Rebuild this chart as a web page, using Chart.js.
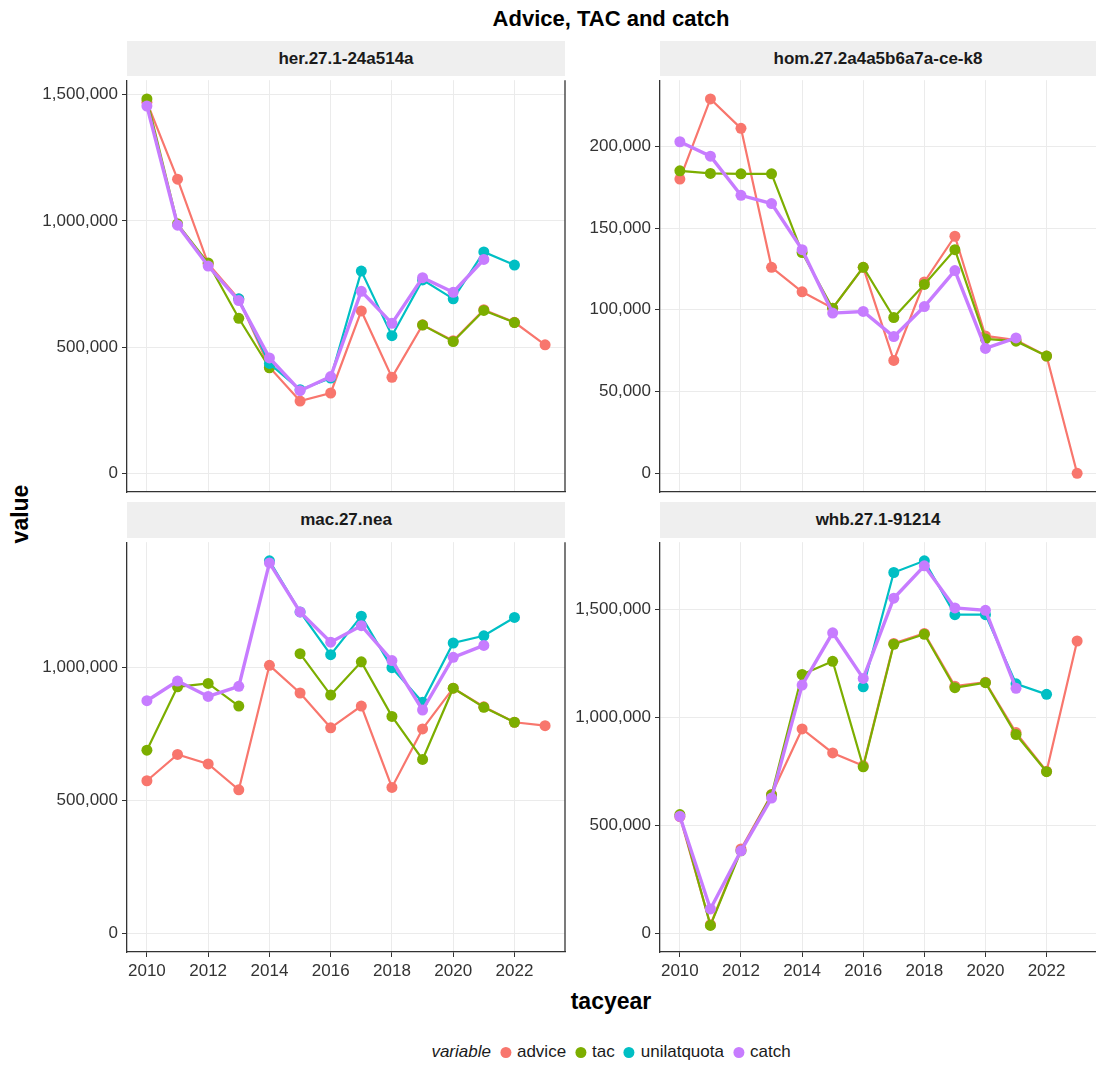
<!DOCTYPE html>
<html>
<head>
<meta charset="utf-8">
<script src="https://cdn.jsdelivr.net/npm/chart.js@4.4.1/dist/chart.umd.min.js"></script>
<style>
  body { margin: 0; width: 1096px; height: 1066px; overflow: hidden; background: #fff;
         font-family: "Liberation Sans", Arial, sans-serif; position: relative; }
  canvas { position: absolute; }
  .lbl { position: absolute; transform: translate(-50%, -50%); white-space: nowrap; color: #000; }
  .strip { position: absolute; background: #efefef; font-weight: bold; font-size: 17px; color: #1a1a1a;
           display: flex; align-items: center; justify-content: center; }
  #legend { position: absolute; top: 1052px; left: 611px; transform: translate(-50%, -50%);
            font-size: 17px; color: #1a1a1a; display: flex; align-items: center; white-space: nowrap; }
  #legend .dot { width: 11px; height: 11px; border-radius: 50%; display: inline-block; margin: 0 6px 0 9px; }
</style>
</head>
<body>
<div class="lbl" style="left:611px;top:19px;font-weight:bold;font-size:22px;">Advice, TAC and catch</div>
<div class="lbl" style="left:611px;top:1001px;font-weight:bold;font-size:23px;">tacyear</div>
<div class="lbl" style="left:20px;top:514px;font-weight:bold;font-size:23px;transform:translate(-50%,-50%) rotate(-90deg);">value</div>
<div id="legend"><i>variable</i></div>

<script>
// years and tick labels
const years = [2010, 2011, 2012, 2013, 2014, 2015, 2016, 2017, 2018, 2019, 2020, 2021, 2022, 2023];
const xTicks = [2010, 2012, 2014, 2016, 2018, 2020, 2022];

const variables = ['advice', 'tac', 'unilatquota', 'catch'];
const colors = ['#F8766D', '#7CAE00', '#00BFC4', '#C77CFF'];

// her.27.1-24a514a
const herAdvice = [1470000, 1165000, 830000, 690000, 420000, 286000, 318000, 643000, 380000, 588000, 525000, 648000, 598000, 509000];
const herTac    = [1483000, 988000, 833000, 614000, 418000, null, null, null, null, 587000, 522000, 645000, 597000, null];
const herUnilat = [null, null, null, 691000, 435000, 331000, 377000, 801000, 545000, 766000, 691000, 877000, 825000, null];
const herCatch  = [1455000, 983000, 821000, 684000, 457000, 327000, 383000, 721000, 594000, 775000, 717000, 847000, null, null];
const herTicks  = [0, 500000, 1000000, 1500000];

// hom.27.2a4a5b6a7a-ce-k8
const homAdvice = [180000, 229000, 211000, 126000, 111000, 101000, 126000, 69000, 117000, 145000, 84000, 81500, 71700, 0];
const homTac    = [185000, 183400, 183200, 183200, 135000, 101000, 126000, 95300, 115500, 136800, 82200, 80800, 71700, null];
const homUnilat = [null, null, null, null, null, null, null, null, null, null, null, null, null, null];
const homCatch  = [202800, 194000, 170000, 165000, 136800, 98000, 99000, 83600, 102000, 124000, 76400, 82800, null, null];
const homTicks  = [0, 50000, 100000, 150000, 200000];

// mac.27.nea
const macAdvice = [574000, 673000, 637000, 540000, 1008000, 904000, 773000, 855000, 549000, 769000, 922000, 852000, 794000, 781000];
const macTac    = [689000, 927000, 940000, 855000, null, 1052000, 896000, 1021000, 816000, 654000, 922000, 850000, 794000, null];
const macUnilat = [null, null, null, null, 1401000, 1209000, 1048000, 1193000, 999000, 869000, 1092000, 1119000, 1188000, null];
const macCatch  = [875000, 949000, 891000, 929000, 1393000, 1209000, 1095000, 1157000, 1026000, 840000, 1038000, 1083000, null, null];
const macTicks  = [0, 500000, 1000000];

// whb.27.1-91214
const whbAdvice = [540000, 40000, 391000, 643000, 946000, 835000, 776000, 1342000, 1388000, 1144000, 1162000, 929000, 750000, 1353000];
const whbTac    = [550000, 37000, 382000, 641000, 1198000, 1259000, 771000, 1338000, 1384000, 1137000, 1160000, 920000, 748000, null];
const whbUnilat = [null, null, null, null, null, null, 1141000, 1670000, 1724000, 1475000, 1475000, 1155000, 1106000, null];
const whbCatch  = [542000, 113000, 382000, 626000, 1149000, 1391000, 1180000, 1551000, 1701000, 1506000, 1495000, 1134000, null, null];
const whbTicks  = [0, 500000, 1000000, 1500000];

const panels = [
  { name: 'her.27.1-24a514a', series: [herAdvice, herTac, herUnilat, herCatch], yTicks: herTicks,
    l: 127, t: 76, r: 565, b: 492, stripTop: 41, showX: false },
  { name: 'hom.27.2a4a5b6a7a-ce-k8', series: [homAdvice, homTac, homUnilat, homCatch], yTicks: homTicks,
    l: 660, t: 76, r: 1097, b: 492, stripTop: 41, showX: false },
  { name: 'mac.27.nea', series: [macAdvice, macTac, macUnilat, macCatch], yTicks: macTicks,
    l: 127, t: 538, r: 565, b: 952, stripTop: 502, showX: true },
  { name: 'whb.27.1-91214', series: [whbAdvice, whbTac, whbUnilat, whbCatch], yTicks: whbTicks,
    l: 660, t: 538, r: 1097, b: 952, stripTop: 502, showX: true },
];

Chart.defaults.font.family = '"Liberation Sans", Arial, sans-serif';

const axisColor = '#333333';
const gridColor = '#ebebeb';

// panel border on the right side
const rightBorder = {
  id: 'rightBorder',
  afterDraw(chart) {
    const { ctx, chartArea: a } = chart;
    ctx.save();
    ctx.strokeStyle = axisColor;
    ctx.lineWidth = 1.3;
    ctx.beginPath();
    ctx.moveTo(a.right, a.top);
    ctx.lineTo(a.right, a.bottom);
    ctx.stroke();
    ctx.restore();
  }
};

const xSpan = years[years.length - 1] - years[0];
const xMin = years[0] - 0.05 * xSpan;
const xMax = years[years.length - 1] + 0.05 * xSpan;

const PADL = 100, PADT = 10, PADR = 10, PADB = 40;

panels.forEach(p => {
  // strip
  const strip = document.createElement('div');
  strip.className = 'strip';
  strip.style.left = p.l + 'px';
  strip.style.top = p.stripTop + 'px';
  strip.style.width = (Math.min(p.r, 1096) - p.l) + 'px';
  strip.style.height = (p.t - p.stripTop) + 'px';
  strip.textContent = p.name;
  document.body.appendChild(strip);

  const canvas = document.createElement('canvas');
  const w = p.r - p.l + PADL + PADR;
  const h = p.b - p.t + PADT + PADB;
  canvas.width = w;
  canvas.height = h;
  canvas.style.left = (p.l - PADL) + 'px';
  canvas.style.top = (p.t - PADT) + 'px';
  canvas.style.width = w + 'px';
  canvas.style.height = h + 'px';
  document.body.appendChild(canvas);

  const all = p.series.flat().filter(v => v !== null);
  const lo = Math.min(0, ...all);
  const hi = Math.max(...all);
  const pad = 0.05 * (hi - lo);

  const datasets = p.series.map((vals, i) => ({
    label: variables[i],
    data: years.map((yr, j) => ({ x: yr, y: vals[j] })),
    borderColor: colors[i],
    backgroundColor: colors[i],
    pointBackgroundColor: colors[i],
    pointBorderWidth: 0,
    pointRadius: 5.5,
    borderWidth: i === 3 ? 3.4 : 2.2,
    spanGaps: false,
    order: 4 - i,
  }));

  new Chart(canvas.getContext('2d'), {
    type: 'line',
    data: { datasets },
    options: {
      responsive: false,
      animation: false,
      layout: { padding: { top: PADT, right: PADR, bottom: 0, left: 0 } },
      plugins: { legend: { display: false }, tooltip: { enabled: false } },
      scales: {
        x: {
          type: 'linear',
          min: xMin,
          max: xMax,
          afterBuildTicks: ax => { ax.ticks = xTicks.map(v => ({ value: v })); },
          afterFit: ax => { ax.height = PADB; },
          grid: { color: gridColor, lineWidth: 1, drawTicks: p.showX, tickLength: 5, tickColor: axisColor },
          border: { display: true, color: axisColor, width: 1.3 },
          ticks: { display: p.showX, color: '#333', font: { size: 17 }, padding: 4, maxRotation: 0,
                   callback: v => String(v) },
        },
        y: {
          type: 'linear',
          min: lo - pad,
          max: hi + pad,
          afterBuildTicks: ax => { ax.ticks = p.yTicks.map(v => ({ value: v })); },
          afterFit: ax => { ax.width = PADL; },
          grid: { color: gridColor, lineWidth: 1, drawTicks: true, tickLength: 5, tickColor: axisColor },
          border: { display: true, color: axisColor, width: 1.3 },
          ticks: { color: '#333', font: { size: 17 }, padding: 4,
                   callback: v => v.toLocaleString('en-US') },
        },
      },
    },
    plugins: [rightBorder],
  });
});

// legend
const legend = document.getElementById('legend');
variables.forEach((v, i) => {
  const dot = document.createElement('span');
  dot.className = 'dot';
  dot.style.background = colors[i];
  legend.appendChild(dot);
  const txt = document.createElement('span');
  txt.textContent = v;
  legend.appendChild(txt);
});
</script>
</body>
</html>
